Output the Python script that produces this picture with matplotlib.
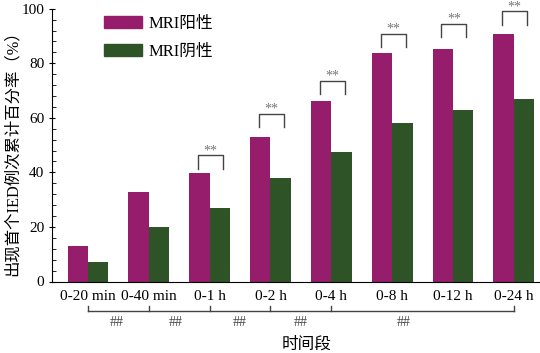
import numpy as np
import matplotlib.pyplot as plt
from matplotlib.patches import Patch
from matplotlib.ticker import MultipleLocator

plt.rcParams['font.family'] = ['Liberation Serif', 'Noto Sans CJK SC']
plt.rcParams['font.size'] = 11

#-----
# data
periods = ['0-20 min', '0-40 min', '0-1 h', '0-2 h', '0-4 h', '0-8 h', '0-12 h', '0-24 h']
mri_pos = [13.0, 32.7, 39.7, 52.9, 66.3, 83.6, 85.3, 90.6]
mri_neg = [7.2, 20.0, 26.9, 37.9, 47.6, 58.0, 62.8, 66.9]
sig_groups = [2, 3, 4, 5, 6, 7]           # groups with ** between the two bars
sig_tops = [46.2, 61.4, 73.6, 90.6, 94.4, 99.0]
hash_ticks = [0, 1, 2, 3, 4, 7]           # ## brackets along the x axis
hash_labels_x = [0.48, 1.45, 2.5, 3.5, 5.19]

pos_color = '#961c6c'
neg_color = '#2e5327'

fig = plt.figure(figsize=(5.4, 3.53), dpi=100)
ax = fig.add_axes([52/540, (353-281.5)/353, (540-52)/540, 272.8/353])

x = np.arange(len(periods))
w = 0.335
ax.bar(x - w/2, mri_pos, w, color=pos_color)
ax.bar(x + w/2, mri_neg, w, color=neg_color)

ax.set_xlim(-0.59, 7.43)
ax.set_ylim(0, 100)
ax.set_xticks(x)
ax.set_xticklabels(periods)
ax.tick_params(axis='x', length=0, pad=6)
ax.yaxis.set_major_locator(MultipleLocator(20))
ax.yaxis.set_minor_locator(MultipleLocator(4))
ax.tick_params(axis='y', which='major', direction='inout', length=5, pad=3)
ax.tick_params(axis='y', which='minor', direction='in', length=3)
for s in ['top', 'right']:
  ax.spines[s].set_visible(False)

# ** brackets
leg = 4.8
for g, top in zip(sig_groups, sig_tops):
  x0 = g - 0.19
  x1 = g + 0.22
  ax.plot([x0, x0, x1, x1], [top - leg, top, top, top - leg], color='#444444', lw=1.0, clip_on=False)
  ax.text((x0 + x1)/2, top - 0.6, '**', ha='center', va='bottom', fontsize=10, color='#777777')

# ## brackets below the axis
trans = ax.get_xaxis_transform()
ax.plot([hash_ticks[0], hash_ticks[-1]], [-0.108, -0.108], color='#444444', lw=1.0, transform=trans, clip_on=False)
for t in hash_ticks:
  ax.plot([t, t], [-0.108, -0.088], color='#444444', lw=1.0, transform=trans, clip_on=False)
for hx in hash_labels_x:
  ax.text(hx, -0.152, '##', ha='center', va='center', fontsize=10, color='#444444', transform=trans)

fig.text(307/540, 1 - 345/353, '时间段', ha='center', va='center', fontsize=12)
fig.text(13/540, 1 - 149/353, '出现首个IED例次累计百分率（%）', rotation=90, ha='center', va='center', fontsize=11.8)

handles = [Patch(color=pos_color), Patch(color=neg_color)]
ax.legend(handles, ['MRI阳性', 'MRI阴性'], loc='upper left', bbox_to_anchor=(0.075, 1.03),
          frameon=False, fontsize=12, handlelength=2.3, handleheight=0.7, labelspacing=0.75, handletextpad=0.4)

fig.savefig('out.png', dpi=100)
